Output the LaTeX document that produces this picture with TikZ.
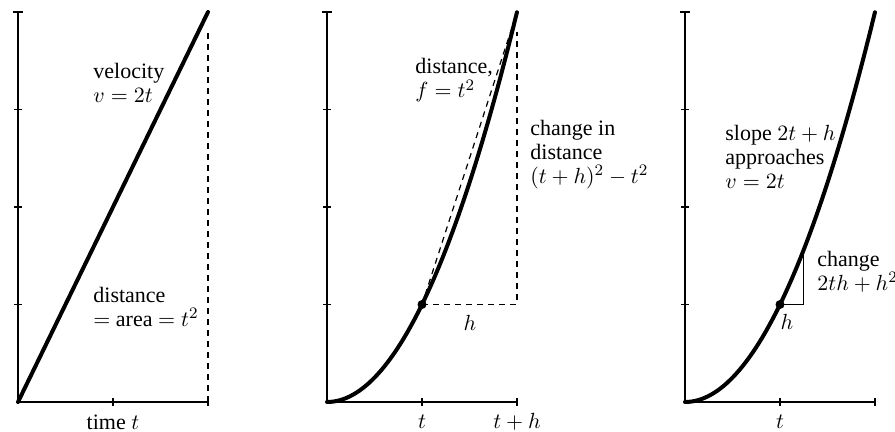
\documentclass[tikz,border=0pt]{standalone}
\usepackage{fontspec}
\setmainfont{Liberation Serif}
\tikzset{
	axis/.style={line width=0.6pt},
	graph/.style={line width=2pt, line cap=round},
	guide/.style={line width=0.6pt, dash pattern=on 3pt off 2.5pt},
	lbl/.style={font=\fontsize{11}{12}\selectfont, align=left, anchor=west, inner sep=0pt},
	ticklbl/.style={font=\fontsize{11}{11}\selectfont, inner sep=0pt}
}
\begin{document}
\begin{tikzpicture}[x=50pt,y=50pt]
		\useasboundingbox (0,0) rectangle (8.95,4.32);

		% Draw the three pairs of axes
		\foreach \px in {0.18,3.27,6.85} {
				\begin{scope}[shift={(\px,0.30)}]
					\draw[axis] (-0.05,3.9) -- (0.05,3.9) (0,3.9) -- (0,0) -- (1.9,0);
					\foreach \k in {1,2,3}
						\draw[axis] (-0.04,\k*0.975) -- (0.04,\k*0.975);
					\foreach \k in {1,2}
						\draw[axis] (\k*0.95,-0.04) -- (\k*0.95,0.04);
				\end{scope}
			}

		% Velocity v = 2t
		\begin{scope}[shift={(0.18,0.30)}]
			\draw[guide] (1.9,0) -- (1.9,3.7);
			\draw[graph] (0,0) -- (1.9,3.9);
			\node[lbl] (vel) at (0.75,3.19) {velocity\\$v = 2t$};
			\node[lbl] (area) at (0.75,0.95) {distance\\$=$ area $= t^2$};
			\node[ticklbl] (time) at (0.95,-0.2) {time $t$};
		\end{scope}

		% Distance f = t^2 and the secant
		\begin{scope}[shift={(3.27,0.30)}]
			\coordinate (p2) at (0.95,0.975);
			\coordinate (q2) at (1.9,3.9);
			\coordinate (r2) at (1.9,0.975);
			\coordinate (top2) at (1.9,3.7);
			\draw[guide] (p2) -- (r2) -- (top2);
			\draw[guide, shorten <=5pt, shorten >=6pt] (p2) -- (q2);
			\draw[graph, domain=0:1.9, samples=60] plot (\x,{3.9*(\x/1.9)^2});
			\fill (p2) circle (0.045);
			\node[lbl] (dist) at (0.88,3.215) {distance,\\$f = t^2$};
			\node[lbl] (chg2) at (2.03,2.47) {change in\\distance\\$(t + h)^2 - t^2$};
			\node[ticklbl] (h2) at (1.43,0.79) {$h$};
			\node[ticklbl] (t2) at (0.95,-0.2) {$t$};
			\node[ticklbl] (th2) at (1.9,-0.2) {$t + h$};
		\end{scope}

		% Small step h and the slope
		\begin{scope}[shift={(6.85,0.30)}]
			\coordinate (p3) at (0.95,0.975);
			\coordinate (s3) at (1.1875,0.975);
			\coordinate (c3) at (1.1875,1.5234);
			\draw[axis] (p3) -- (s3) -- (c3);
			\draw[graph, domain=0:1.9, samples=60] plot (\x,{3.9*(\x/1.9)^2});
			\fill (p3) circle (0.045);
			\node[lbl] (slope) at (0.40,2.45) {slope $2t + h$\\approaches\\$v = 2t$};
			\node[lbl] (chg3) at (1.32,1.30) {change\\$2th + h^2$};
			\node[ticklbl] (h3) at (1.02,0.80) {$h$};
			\node[ticklbl] (t3) at (0.95,-0.2) {$t$};
		\end{scope}
	\end{tikzpicture}
\end{document}
